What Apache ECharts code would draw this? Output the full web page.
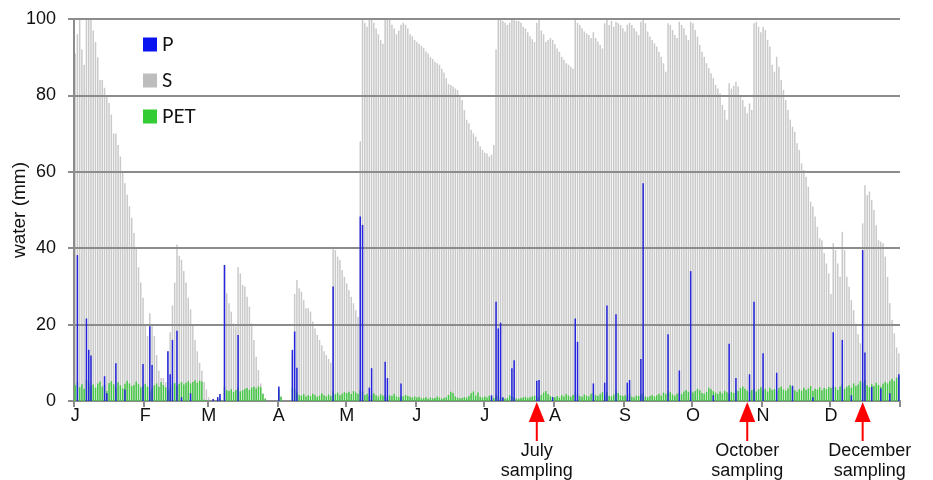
<!DOCTYPE html>
<html><head><meta charset="utf-8">
<script src="https://cdn.jsdelivr.net/npm/echarts@6/dist/echarts.min.js"></script>
<style>html,body{margin:0;padding:0;background:#fff}#c{width:933px;height:480px}</style>
</head><body><div id="c"></div>
<script>
// ---- data (daily values, mm) ----
const monthLabels = ['J','F','M','A','M','J','J','A','S','O','N','D'];
const monthStarts = [0,31,59,90,120,151,181,212,243,273,304,334];

// S (soil water storage) per month
const sJan = [91,96,100,92,88,100,100,100,97,94,90,84,84,82,80,78,75,70,70,67,64,60,57,54,51,48,44,40,35,31,27];
const sFeb = [20,17,23,20,17,12,8,6,6,5,13,18,25,31,41,38,37,34,31,27,24,20,16,13,10,8,5,3];
const sMar = [1,0,0.5,0,1,1.8,0,35.6,28.2,25.6,23.4,20.3,19.5,35,33.4,30.4,30,27.3,24.7,20.3,16,11.6,8.1,4.6,2,0.7,0,0,0,0,0];
const sApr = [3.5,1,0,0,0,0,12,28,31.7,29.5,28.6,26.4,24.3,24.3,23.4,20.8,19,17.3,16,14.5,13,12,11,10,40.4,39.5,37.8,36.9,34.3,32.5];
const sMay = [30.8,29,27.3,25.6,23.8,22,68,100,99,98,100,100,99,97.5,96,94.5,93.5,100,100,100,98.5,97.5,96,97,98.5,99,98.5,97.5,96,95.5,94.5];
const sJun = [94,93.5,93,92.5,91.5,91,90,89.5,88.8,88.4,88,87,86,84.5,83,82.7,82.3,81.8,81.4,79.7,78.8,76.2,73.6,72.7,71,70,69.2,68,66.6,65.7];
const sJul = [65,64.8,64,64.5,67,92,100,100,99.5,99,98.5,99,100,100,99.5,99.5,99,98,97.5,96.5,95.5,94.7,94,99,100,97,96,94,94.5,95,94.5];
const sAug = [93.4,92.3,91.4,90.1,89.3,88.4,88,87.5,87,100,99,98.4,97.6,96.7,96.2,95.8,95,96.5,95,94.1,93.2,92.3,98.9,100,98.4,99.5,98,99.3,98.9,98.4,97.6];
const sSep = [96.7,98.5,99,98.4,97.6,96.7,95.8,99.3,100,98.9,96.7,95.4,94.5,93.6,92.8,91.4,90.1,88.4,86.2,98.9,98.4,97.1,95.8,95,99.3,98.4,97.6,95.8,94.5,99.3];
const sOct = [98.9,97.1,95.4,93.2,91.4,90.1,88.4,87.1,85.8,84.5,82.7,81.8,80.5,77.5,76.2,73.6,83.2,81.8,82.5,83.6,82.3,80,78.8,77,75.3,77.9,76.2,98.9,99.3,98,96.5];
const sNov = [98,97.1,94.5,92.8,88,86.2,90.1,87.5,84,81.4,78.8,76.2,73.6,71.8,70.5,67.5,65.7,62.2,60.5,58.7,56.1,52.2,50.9,48.3,45.6,42.6,42.1,38.7,36,33.4];
const sDec = [28,41.3,39.5,36,32.5,44.3,39.5,32.5,29.9,26.4,23.8,20.3,17.5,15.1,46.5,56.5,53.9,54.8,52.6,50,46,42.1,41.7,41.3,37.8,32.5,25.6,21.2,17.7,14,12.5];

// PET per month
const eJan = [4.2,5,3.6,4.4,3.2,5.5,4.8,3.9,4.3,3.5,4.6,5.1,3.8,4.2,2.6,4.7,5.2,4.4,3.6,4.9,4.1,3.3,4.5,5.3,4.6,3.9,4.2,5.1,4.4,3.6,3.9];
const eFeb = [4.5,3.8,2.5,3.2,4.1,4.6,3.7,4.9,4.2,3.6,2.8,3.4,4.4,4.7,3.9,4.5,5,4.3,4.8,5.2,4.6,5,5.4,4.8,5.3,5.1,0.3,0.2];
const eMar = [0,0,0.2,0,0.3,0.5,0,3.8,2.8,2.6,3.1,2.4,2.9,3.6,2.5,2.8,3.2,3.4,2.9,3.5,3.7,3.3,3.8,3.6,1.8,0.6,0,0,0,0,0];
const eApr = [3,1.2,0,0,0,0,3.5,3,2.2,1.6,1.4,1.8,1.2,1.5,1.3,1.9,1.6,1.1,1.4,2,1.5,1.2,1.7,1.3,2.6,1.8,2.2,1.5,1.9,2.3];
const eMay = [2.1,2.4,1.8,2.6,2.2,1.9,2.8,2.5,1.6,1.9,1.3,1.7,2,1.5,1.2,1.8,1.4,1.6,1.1,1.5,1.3,1.9,1.2,1,1.4,1.2,1.6,1.3,1.1,0.9,1.2];
const eJun = [0.9,1.1,0.7,0.8,1,0.6,0.9,0.7,0.8,1.2,0.9,0.6,0.8,1,1.6,2.4,2.1,1.2,0.9,0.7,0.8,1,0.9,1.3,2,2.5,1.4,2.2,1.1,0.9];
const eJul = [1.2,0.9,1.4,1.1,0.8,1.6,1.3,0.9,0.7,0.6,0.8,1.5,1.1,0.9,0.7,0.6,0.8,0.9,1.1,0.8,1,1.2,1.4,1.1,0.9,1.6,2.2,2.6,1.8,1.3,1.1];
const eAug = [1,1.3,0.9,1.5,1.2,1.8,1.4,1.1,1.6,2.2,1.9,1.3,1.1,1.7,1.4,1.2,1.9,2.1,1.5,1.3,1.8,2.3,1.6,2.4,1.4,1.2,1.7,2.6,2.1,1.5,1.3];
const eSep = [1.5,1.2,1.8,1.1,0.9,1.4,1.3,1.7,2.1,1.2,1,1.3,1.6,1.2,1.5,1.9,1.4,2.2,1.8,2.6,2.3,1.7,1.4,1.9,2.2,1.8,2.5,2.9,2.4,2.7];
const eOct = [2.2,2.6,3.2,2.8,2.1,1.9,2.4,3.5,3.1,2.6,2.2,1.8,2.5,2,2.7,2.3,1.9,2.4,2.1,2.9,2.6,3.4,3.8,3.2,2.7,2.3,2.9,3.3,2.5,3.1,3.6];
const eNov = [2.8,3.2,2.5,3.5,2.9,3.1,2.6,3.4,3.8,3,2.7,3.3,4.2,3.6,2.8,2.4,3.1,2.7,3.5,2.9,3.3,3.9,2.6,3.2,3,3.6,2.8,3.4,3.1,3.7];
const eDec = [3.4,4,3.6,2.9,3.8,4.4,3.2,3.7,4.1,3.5,4.6,3.9,4.3,5.2,4.7,5.5,4.1,3.6,4.4,3.9,4.8,4.2,3.7,4.5,5,4.6,5.3,5.8,5.2,6.1,6.4];

// P (precipitation): [day index, mm]
const P = [[1,38.2],[5,21.6],[6,13.4],[7,11.9],[13,6.5],[14,2],[18,9.9],[22,3],[30,9.7],[33,19.6],[34,9.4],
  [41,13],[42,7],[43,16],[45,18.4],[47,1],[51,2],[61,0.5],[63,1],[64,1.8],[66,35.6],[72,17.3],
  [90,3.8],[96,13.4],[97,18.2],[98,8.7],[114,30],[126,48.3],[127,46.1],[130,3.5],[131,8.6],[137,10.3],[138,6],[144,4.6],
  [184,1.5],[186,26],[187,19],[188,20.5],[189,1],[193,8.6],[194,10.7],[204,5.3],[205,5.5],[211,1],
  [221,21.6],[222,15.5],[229,4.6],[234,4.8],[235,25],[239,22.7],[244,4.8],[245,5.5],[250,11],[251,57],
  [262,17.5],[267,8],[272,34],[282,1.5],[289,15],[292,6],[298,7],[300,26],[304,12.5],[310,7.4],[317,4],
  [326,1],[335,18],[339,16],[343,1.5],[348,39.5],[349,12.7],[352,3.7],[356,3.3],[360,2],[364,7]];

const samplingDays = [204, 297, 348];
const samplingLabels = ['July\nsampling', 'October\nsampling', 'December\nsampling'];
const yTicks = {min: 0, max: 100, step: 20};

// ---- build ----
const S = [].concat(sJan,sFeb,sMar,sApr,sMay,sJun,sJul,sAug,sSep,sOct,sNov,sDec);
const PET = [].concat(eJan,eFeb,eMar,eApr,eMay,eJun,eJul,eAug,eSep,eOct,eNov,eDec);
if (S.length !== 365 || PET.length !== 365) throw new Error('length S=' + S.length + ' PET=' + PET.length);
const days = S.map((_, i) => 'day ' + (i + 1));

const FONT = 'Liberation Sans, Arial, sans-serif';
const GRID_GREY = '#8c8c8c';
const isMonthStart = (i) => monthStarts.indexOf(i) >= 0;
const chart = echarts.init(document.getElementById('c'), null, {renderer: 'canvas'});
chart.setOption({
  animation: false,
  textStyle: {fontFamily: FONT},
  grid: {left: 74, right: 33, top: 19, bottom: 79, containLabel: false, outerBoundsMode: 'none'},
  legend: {
    orient: 'vertical', left: 143, top: 35, padding: 0, itemWidth: 14, itemHeight: 14, itemGap: 17,
    icon: 'rect', selectedMode: false,
    textStyle: {fontSize: 19, color: '#111', fontFamily: 'Lato, Liberation Sans, sans-serif'},
    data: [
      {name: 'P', itemStyle: {color: '#0a14f0'}},
      {name: 'S', itemStyle: {color: '#bdbdbd'}},
      {name: 'PET', itemStyle: {color: '#33cc33'}}
    ]
  },
  xAxis: {
    type: 'category', data: days, boundaryGap: true,
    axisLine: {lineStyle: {color: GRID_GREY, width: 2}},
    axisTick: {show: true, interval: (i) => isMonthStart(i), length: 6, lineStyle: {color: GRID_GREY, width: 2}},
    axisLabel: {
      interval: (i) => isMonthStart(i),
      formatter: (v, i) => monthLabels[monthStarts.indexOf(i)],
      color: '#111', fontSize: 18, margin: 6, fontFamily: FONT
    },
    splitLine: {show: false}
  },
  yAxis: {
    type: 'value', min: yTicks.min, max: yTicks.max, interval: yTicks.step,
    name: 'water (mm)', nameLocation: 'middle', nameGap: 45, nameMoveOverlap: false,
    nameTextStyle: {color: '#111', fontSize: 19, fontFamily: FONT},
    axisLine: {show: true, lineStyle: {color: GRID_GREY, width: 2}},
    axisTick: {show: true, length: 6, lineStyle: {color: GRID_GREY, width: 2}},
    axisLabel: {color: '#111', fontSize: 18, margin: 18, fontFamily: FONT},
    splitLine: {show: true, lineStyle: {color: GRID_GREY, width: 2}},
    z: 3
  },
  series: [
    {name: 'S', type: 'bar', data: S, barWidth: '66%', barGap: '-100%', itemStyle: {color: '#c9c9c9'}, z: 2, silent: true},
    {name: 'PET', type: 'bar', data: PET, barWidth: '66%', barGap: '-100%', itemStyle: {color: '#45c845'}, z: 4, silent: true},
    {name: 'P', type: 'bar', data: P, barWidth: '66%', barGap: '-100%', itemStyle: {color: '#2424dd'}, z: 5, silent: true}
  ]
});

// sampling arrows below the axis
const baseY = chart.convertToPixel({yAxisIndex: 0}, 0);
const labelShift = [0, 0, 7];
const els = [];
samplingDays.forEach((d, k) => {
  const x = chart.convertToPixel({xAxisIndex: 0}, d);
  els.push({type: 'polygon', shape: {points: [[x, baseY + 1], [x - 8, baseY + 21], [x + 8, baseY + 21]]},
    style: {fill: '#ff0000'}, z: 100});
  els.push({type: 'line', shape: {x1: x, y1: baseY + 19, x2: x, y2: baseY + 40},
    style: {stroke: '#ff0000', lineWidth: 2}, z: 100});
  els.push({type: 'text', x: x + labelShift[k], y: baseY + 40, z: 100,
    style: {text: samplingLabels[k], fill: '#111', font: '18px ' + FONT, textAlign: 'center',
      textVerticalAlign: 'top', verticalAlign: 'top', lineHeight: 20}});
});
chart.setOption({graphic: {elements: els}});
</script></body></html>
